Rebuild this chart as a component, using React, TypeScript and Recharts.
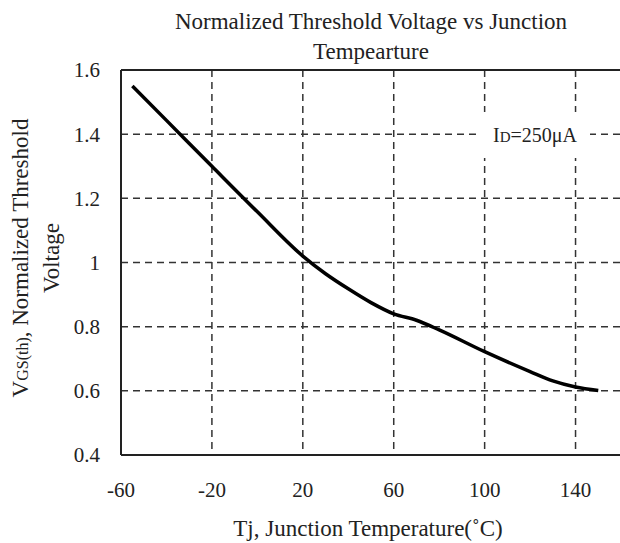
import { LineChart, Line, XAxis, YAxis, CartesianGrid, ReferenceLine } from 'recharts';

const temps = [-55, -40, -20, 0, 20, 30, 40, 50, 60, 70, 80, 100, 120, 130, 140, 150];
const vth = [1.55, 1.443, 1.3, 1.158, 1.02, 0.965, 0.918, 0.875, 0.84, 0.82, 0.79, 0.722, 0.66, 0.631, 0.612, 0.601];
const xTicks = [-60, -20, 20, 60, 100, 140];
const yTicks = [0.4, 0.6, 0.8, 1, 1.2, 1.4, 1.6];

const data = temps.map((t, i) => ({ t, v: vth[i] }));

const font = '"Liberation Serif", "Times New Roman", serif';
const ink = '#222';

export default function App() {
  const tick = { fill: ink, fontSize: 21, fontFamily: font };
  return (
    <div style={{ position: 'absolute', left: 0, top: 0, width: 620, height: 543, overflow: 'hidden', background: '#fff', fontFamily: font, color: ink }}>
      <LineChart width={622} height={543} data={data} margin={{ top: 70, right: 1, bottom: 0, left: 0 }}>
        <CartesianGrid stroke="#333" strokeWidth={1.5} strokeDasharray="7 5" />
        <XAxis
          dataKey="t"
          type="number"
          domain={[-60, 160]}
          ticks={xTicks}
          allowDataOverflow
          height={88}
          stroke="#222"
          strokeWidth={2}
          tickLine={false}
          tickSize={0}
          tickMargin={27}
          tick={tick}
        />
        <YAxis
          type="number"
          domain={[0.4, 1.6]}
          ticks={yTicks}
          width={121}
          stroke="#222"
          strokeWidth={2}
          tickLine={false}
          tickSize={0}
          tickMargin={21}
          tick={tick}
        />
        <ReferenceLine y={1.6} stroke="#222" strokeWidth={2} />
        <Line type="monotone" dataKey="v" stroke="#000" strokeWidth={3.5} dot={false} isAnimationActive={false} />
      </LineChart>

      <div style={{ position: 'absolute', left: 0, width: 742, top: 7, textAlign: 'center', fontSize: 23, lineHeight: '30px' }}>
        Normalized Threshold Voltage vs Junction
        <br />
        Tempearture
      </div>

      <div style={{ position: 'absolute', left: 480, top: 112, width: 110, height: 46, background: '#fff', fontSize: 20, lineHeight: '46px', textAlign: 'center' }}>
        I<span style={{ fontSize: 15 }}>D</span>=250μA
      </div>

      <div style={{ position: 'absolute', left: 0, width: 736, top: 515, textAlign: 'center', fontSize: 23, lineHeight: '28px' }}>
        Tj, Junction Temperature(˚C)
      </div>

      <div
        style={{
          position: 'absolute',
          left: 36,
          top: 257,
          width: 400,
          marginLeft: -200,
          marginTop: -29,
          transform: 'rotate(-90deg)',
          textAlign: 'center',
          fontSize: 23,
          lineHeight: '29px',
        }}
      >
        V<span style={{ fontSize: 16 }}>GS(th)</span>, Normalized Threshold
        <br />
        Voltage
      </div>
    </div>
  );
}
